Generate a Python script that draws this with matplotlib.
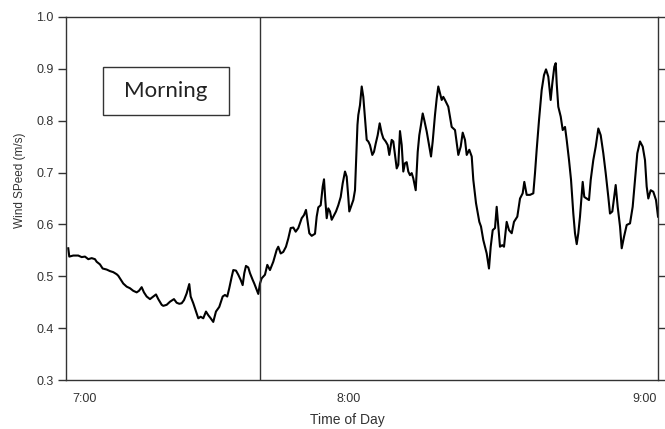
import matplotlib
matplotlib.use("Agg")
import matplotlib.pyplot as plt
from matplotlib.patches import Rectangle

# Wind speed record, minutes after 7:00
minutes = [
    -3.58, -3.36, -2.51, -1.44, -0.71, 0.00, 0.71, 1.44, 2.14, 2.51,
    3.21, 3.79, 4.65, 5.36, 6.06, 6.79, 7.14, 7.50, 8.21, 8.94,
    9.64, 10.35, 11.08, 11.57, 12.15, 12.64, 13.22, 13.93, 14.64, 15.22,
    15.71, 16.44, 16.78, 17.51, 18.22, 19.07, 19.65, 20.21, 20.72, 21.22,
    21.79, 22.35, 22.65, 23.21, 23.79, 24.28, 24.79, 25.35, 25.93, 26.42,
    26.94, 27.49, 28.07, 28.78, 29.51, 30.00, 30.49, 30.92, 31.44, 31.78,
    32.36, 32.85, 33.37, 33.79, 34.14, 34.50, 34.99, 35.36, 35.94, 36.28,
    36.79, 37.14, 37.50, 37.86, 38.57, 39.07, 39.64, 40.35, 41.08, 41.42,
    41.94, 42.49, 43.07, 43.57, 44.08, 44.64, 45.15, 45.71, 46.44, 46.93,
    47.36, 47.64, 48.07, 48.58, 49.29, 49.65, 50.00, 50.51, 50.94, 51.22,
    51.50, 51.80, 52.14, 52.50, 52.87, 53.21, 53.79, 54.28, 54.80, 55.22,
    55.72, 56.08, 56.42, 56.64, 57.00, 57.50, 57.86, 58.07, 58.39, 58.57,
    58.93, 59.30, 59.64, 60.00, 60.37, 60.71, 61.07, 61.57, 61.93, 62.30,
    62.72, 63.15, 63.58, 63.93, 64.44, 64.87, 65.21, 65.72, 66.07, 66.43,
    66.80, 67.14, 67.50, 67.87, 68.21, 68.57, 68.94, 69.28, 69.64, 70.01,
    70.35, 70.87, 71.30, 71.64, 72.00, 72.37, 72.71, 73.23, 73.72, 74.15,
    74.51, 75.00, 75.37, 75.71, 76.07, 76.44, 76.78, 77.14, 77.85, 78.58,
    79.29, 80.00, 80.51, 80.94, 81.43, 81.80, 82.35, 82.87, 83.21, 83.79,
    84.50, 84.86, 85.35, 86.08, 86.57, 86.94, 87.37, 87.86, 88.22, 88.57,
    88.93, 89.42, 89.79, 90.36, 90.86, 91.44, 91.93, 92.64, 93.22, 93.79,
    94.14, 94.65, 95.36, 96.07, 96.43, 96.79, 97.29, 97.86, 98.36, 98.79,
    99.28, 99.79, 100.14, 100.57, 100.87, 101.08, 101.42, 101.94, 102.37, 102.86,
    103.22, 103.72, 104.15, 104.64, 105.00, 105.37, 105.71, 106.07, 106.65, 106.99,
    107.51, 108.00, 108.37, 108.92, 109.44, 110.00, 110.51, 111.07, 111.58, 112.14,
    112.50, 113.00, 113.36, 113.72, 114.15, 114.65, 115.01, 115.50, 116.08, 116.79,
    117.36, 117.86, 118.35, 118.93, 119.51, 120.00, 120.36, 120.71, 121.22, 121.78,
    122.36, 122.79,
]

wind_speed = [
    0.554, 0.538, 0.540, 0.540, 0.537, 0.538, 0.533, 0.535, 0.533, 0.528,
    0.523, 0.515, 0.513, 0.510, 0.508, 0.504, 0.501, 0.496, 0.486, 0.480,
    0.477, 0.472, 0.469, 0.472, 0.479, 0.469, 0.461, 0.456, 0.461, 0.465,
    0.456, 0.445, 0.443, 0.445, 0.451, 0.456, 0.449, 0.447, 0.448, 0.454,
    0.467, 0.485, 0.461, 0.448, 0.432, 0.419, 0.422, 0.419, 0.432, 0.425,
    0.419, 0.412, 0.432, 0.441, 0.461, 0.464, 0.461, 0.477, 0.499, 0.512,
    0.511, 0.503, 0.493, 0.483, 0.506, 0.520, 0.517, 0.506, 0.493, 0.486,
    0.474, 0.466, 0.486, 0.496, 0.503, 0.522, 0.512, 0.528, 0.551, 0.557,
    0.544, 0.547, 0.557, 0.573, 0.593, 0.594, 0.586, 0.593, 0.612, 0.618,
    0.628, 0.610, 0.583, 0.578, 0.582, 0.615, 0.633, 0.637, 0.673, 0.687,
    0.647, 0.612, 0.631, 0.625, 0.609, 0.615, 0.625, 0.637, 0.653, 0.679,
    0.702, 0.692, 0.653, 0.625, 0.634, 0.647, 0.666, 0.715, 0.792, 0.811,
    0.830, 0.866, 0.846, 0.805, 0.763, 0.760, 0.753, 0.734, 0.740, 0.756,
    0.772, 0.795, 0.776, 0.766, 0.760, 0.753, 0.734, 0.763, 0.760, 0.734,
    0.708, 0.715, 0.780, 0.753, 0.702, 0.718, 0.720, 0.702, 0.695, 0.699,
    0.689, 0.666, 0.740, 0.772, 0.792, 0.814, 0.801, 0.779, 0.753, 0.731,
    0.760, 0.811, 0.843, 0.866, 0.853, 0.840, 0.846, 0.840, 0.827, 0.788,
    0.782, 0.734, 0.750, 0.777, 0.763, 0.734, 0.744, 0.731, 0.686, 0.641,
    0.605, 0.596, 0.570, 0.544, 0.515, 0.557, 0.589, 0.593, 0.634, 0.596,
    0.557, 0.560, 0.557, 0.605, 0.589, 0.583, 0.605, 0.615, 0.650, 0.660,
    0.682, 0.657, 0.657, 0.660, 0.699, 0.744, 0.801, 0.859, 0.888, 0.899,
    0.885, 0.840, 0.872, 0.904, 0.911, 0.872, 0.827, 0.808, 0.782, 0.788,
    0.763, 0.724, 0.686, 0.621, 0.583, 0.562, 0.583, 0.615, 0.682, 0.653,
    0.650, 0.647, 0.686, 0.724, 0.750, 0.785, 0.772, 0.737, 0.699, 0.653,
    0.621, 0.625, 0.650, 0.676, 0.634, 0.596, 0.554, 0.576, 0.599, 0.602,
    0.634, 0.686, 0.737, 0.760, 0.750, 0.724, 0.673, 0.650, 0.666, 0.663,
    0.647, 0.615,
]

time_ticks = [0.0, 56.6, 120.0]
time_labels = ["7:00", "8:00", "9:00"]
speed_ticks = [0.3, 0.4, 0.5, 0.6, 0.7, 0.8, 0.9, 1.0]
morning_end = 37.4  # end of the morning period (minutes)

plt.rcParams["font.family"] = ["Liberation Sans", "DejaVu Sans"]
frame_color = "#333333"

fig = plt.figure(figsize=(6.65, 4.29), dpi=100)
ax = fig.add_axes([0.0992, 0.1142, 0.8903, 0.8462])

ax.plot(minutes, wind_speed, color="black", lw=1.5, solid_joinstyle="round")
ax.axvline(morning_end, color=frame_color, lw=1.0)

ax.set_xlim(-4.07, 122.79)
ax.set_ylim(0.3, 1.0)

ax.set_yticks(speed_ticks)
ax.set_yticklabels([f"{v:.1f}" for v in speed_ticks])
ax.tick_params(axis="y", which="both", direction="out", length=6, width=1.0,
               color=frame_color, labelsize=9, labelcolor="#333333", pad=3,
               left=True, right=True, labelleft=True, labelright=False)

ax.set_xticks(time_ticks)
ax.set_xticklabels(time_labels)
ax.tick_params(axis="x", length=0, labelsize=9, labelcolor="#333333", pad=9)

for sp in ax.spines.values():
    sp.set_color(frame_color)
    sp.set_linewidth(1.0)

ax.set_ylabel("Wind SPeed (m/s)", fontsize=8.5, color="#333333")
ax.yaxis.set_label_coords(-0.0675, 0.551)
ax.set_xlabel("Time of Day", fontsize=10, color="#333333")
ax.xaxis.set_label_coords(0.4755, -0.090)

# "Morning" annotation box
ax.add_patch(Rectangle((0.0625, 0.730), 0.2128, 0.132, transform=ax.transAxes,
                       facecolor="white", edgecolor=frame_color, lw=1.0, zorder=3))
ax.text(0.169, 0.796, "Morning", transform=ax.transAxes, ha="center", va="center",
        fontsize=16, family=["Lato", "DejaVu Sans"], color="#222222", zorder=4)

fig.savefig("out.png", dpi=100)
